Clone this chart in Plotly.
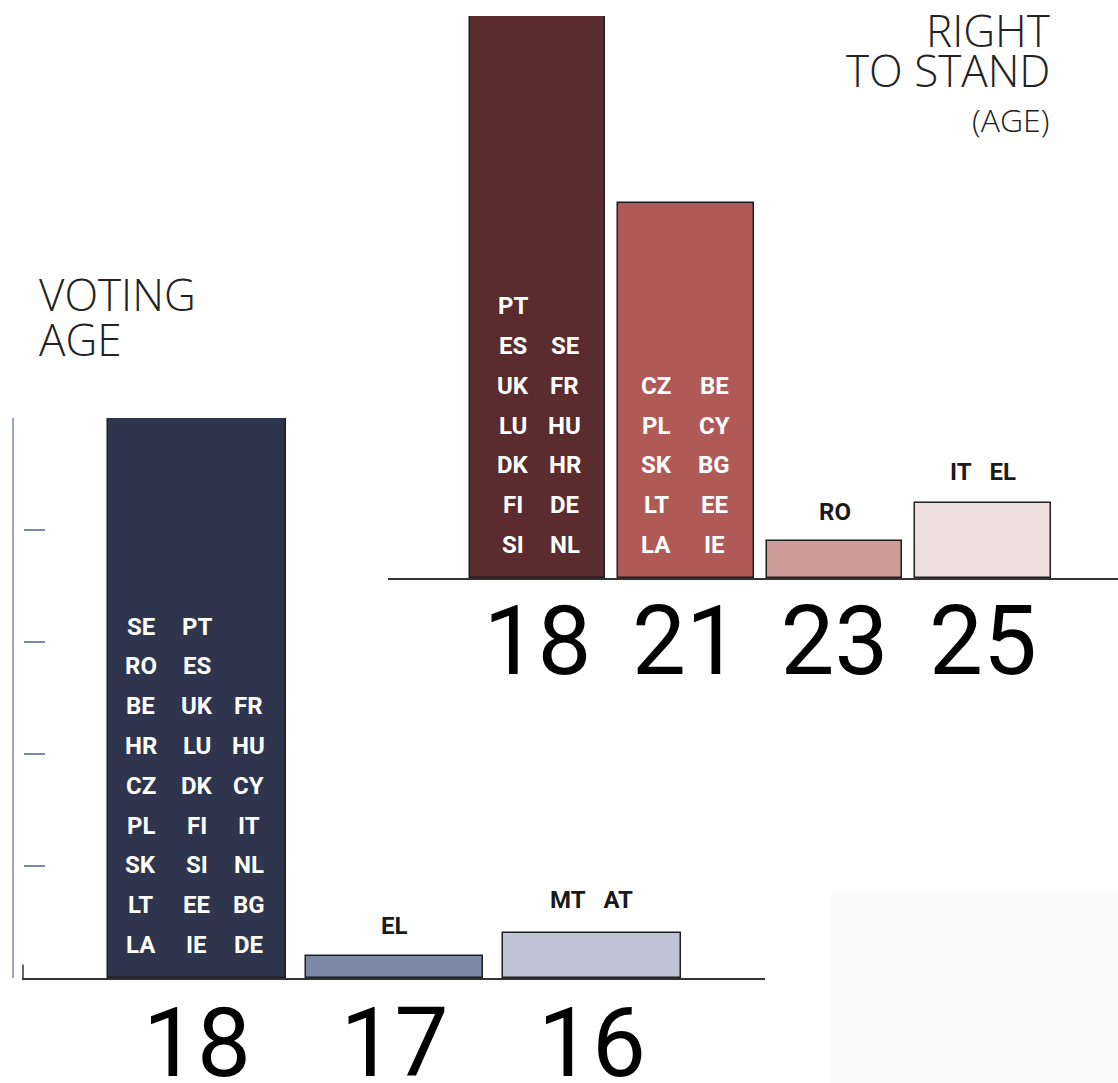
import plotly.graph_objects as go

# ---------------- data ----------------
vote_ages = ["18", "17", "16"]
vote_counts = [25, 1, 2]
vote_colors = ["#2e354c", "#7c88a8", "#bec4d6"]
# country codes inside the 18 bar, columns listed bottom -> top
vote_18_col1 = ["LA", "LT", "SK", "PL", "CZ", "HR", "BE", "RO", "SE"]
vote_18_col2 = ["IE", "EE", "SI", "FI", "DK", "LU", "UK", "ES", "PT"]
vote_18_col3 = ["DE", "BG", "NL", "IT", "CY", "HU", "FR"]
vote_17_members = ["EL"]
vote_16_members = ["MT", "AT"]
vote_ticks = [5, 10, 15, 20, 25]

stand_ages = ["18", "21", "23", "25"]
stand_counts = [15, 10, 1, 2]
stand_colors = ["#5a2c2e", "#b05a58", "#cf9b99", "#efdede"]
stand_18_col1 = ["SI", "FI", "DK", "LU", "UK", "ES", "PT"]
stand_18_col2 = ["NL", "DE", "HR", "HU", "FR", "SE"]
stand_21_col1 = ["LA", "LT", "SK", "PL", "CZ"]
stand_21_col2 = ["IE", "EE", "BG", "CY", "BE"]
stand_23_members = ["RO"]
stand_25_members = ["IT", "EL"]
stand_ticks = [15]

W, H = 1118, 1083
NBSP = "\u00a0"

fig = go.Figure()
fig.add_trace(go.Bar(x=vote_ages, y=vote_counts, width=0.9,
                     marker=dict(color=vote_colors, line=dict(color="#1e1e1e", width=1.5)),
                     xaxis="x", yaxis="y", hoverinfo="skip"))
fig.add_trace(go.Bar(x=stand_ages, y=stand_counts, width=0.91,
                     marker=dict(color=stand_colors, line=dict(color="#1e1e1e", width=1.5)),
                     xaxis="x2", yaxis="y2", hoverinfo="skip"))

ann = []
code_font = dict(family="Roboto", size=24, color="#ffffff", weight="bold")
lab_font = dict(family="Roboto", size=24, color="#1a1a1a", weight="bold")
ROW0, ROWSTEP = 33, 39.8


def bar_columns(cols, xi, xref, yref, offsets):
    for col, off in zip(cols, offsets):
        for i, code in enumerate(col):
            ann.append(dict(x=xi, y=0, xref=xref, yref=yref, xshift=off,
                            yshift=ROW0 + ROWSTEP * i, text=code, showarrow=False,
                            xanchor="center", yanchor="middle", font=code_font))


def top_label(members, xi, val, xref, yref, gap):
    ann.append(dict(x=xi, y=val, xref=xref, yref=yref, yshift=gap,
                    text=(NBSP * 3).join(members), showarrow=False,
                    xanchor="center", yanchor="middle", font=lab_font))


bar_columns([vote_18_col1, vote_18_col2, vote_18_col3], 0, "x", "y", [-56, 0, 52])
top_label(vote_17_members, 1, vote_counts[1], "x", "y", 30)
top_label(vote_16_members, 2, vote_counts[2], "x", "y", 33)

bar_columns([stand_18_col1, stand_18_col2], 0, "x2", "y2", [-25, 27])
bar_columns([stand_21_col1, stand_21_col2], 1, "x2", "y2", [-30, 28])
top_label(stand_23_members, 2, stand_counts[2], "x2", "y2", 29)
top_label(stand_25_members, 3, stand_counts[3], "x2", "y2", 31)

title_font = dict(family="Open Sans", size=44, color="#222222", weight=300)
def py(p):
    return 1 - p / H

ann += [
    dict(x=37 / W, y=py(294), xref="paper", yref="paper", text="VOTING", showarrow=False,
         xanchor="left", yanchor="middle", font=title_font),
    dict(x=37 / W, y=py(339), xref="paper", yref="paper", text="AGE", showarrow=False,
         xanchor="left", yanchor="middle", font=title_font),
    dict(x=1052 / W, y=py(30), xref="paper", yref="paper", text="RIGHT", showarrow=False,
         xanchor="right", yanchor="middle", font=title_font),
    dict(x=1052 / W, y=py(70), xref="paper", yref="paper", text="TO STAND", showarrow=False,
         xanchor="right", yanchor="middle", font=title_font),
    dict(x=1051 / W, y=py(119), xref="paper", yref="paper", text="(AGE)", showarrow=False,
         xanchor="right", yanchor="middle",
         font=dict(family="Open Sans", size=32, color="#222222", weight=300)),
]

shapes = [
    # faint panel bottom-right
    dict(type="rect", xref="paper", yref="paper", x0=830 / W, x1=1, y0=0, y1=py(893),
         fillcolor="#fafafa", line=dict(width=0), layer="below"),
    # left vertical scale line of voting chart
    dict(type="line", xref="paper", yref="y", x0=13 / W, x1=13 / W, y0=-0.1, y1=25.1,
         line=dict(color="#7d88a8", width=1.5)),
    # small upright at start of voting baseline
    dict(type="line", xref="paper", yref="y", x0=23 / W, x1=23 / W, y0=0, y1=0.6,
         line=dict(color="#333333", width=1.5)),
]

tick_font = dict(family="Roboto", size=96, color="#000000")

common_x = dict(type="category", showline=True, linecolor="#333333", linewidth=2,
                ticks="", tickfont=tick_font, showgrid=False, zeroline=False,
                automargin=False, fixedrange=True)
common_y = dict(showgrid=False, zeroline=False, showline=False, showticklabels=False,
                ticks="inside", ticklen=21, tickwidth=1.5, tickcolor="#7d88a8",
                anchor="free", automargin=False, fixedrange=True)

fig.update_layout(
    template="none",
    width=W, height=H, margin=dict(l=0, r=0, t=0, b=0, pad=0),
    paper_bgcolor="#ffffff", plot_bgcolor="rgba(0,0,0,0)",
    showlegend=False, bargap=0,
    annotations=ann, shapes=shapes,
    xaxis=dict(domain=[22 / W, 765 / W], range=[-0.886, 2.876], anchor="y",
               ticklabelstandoff=-19, **common_x),
    yaxis=dict(domain=[py(978), py(418)], range=[0, 25], tickvals=vote_ticks,
               position=23 / W, **common_y),
    xaxis2=dict(domain=[388 / W, 1.0], range=[-1.007, 3.909], anchor="y2",
                ticklabelstandoff=-21, **common_x),
    yaxis2=dict(domain=[py(578), py(16)], range=[0, 15], tickvals=stand_ticks,
                position=388 / W, **common_y),
)

fig.write_html("out.html", config={"displayModeBar": False},
               post_script="document.body.style.margin='0';document.body.style.overflow='hidden';")
